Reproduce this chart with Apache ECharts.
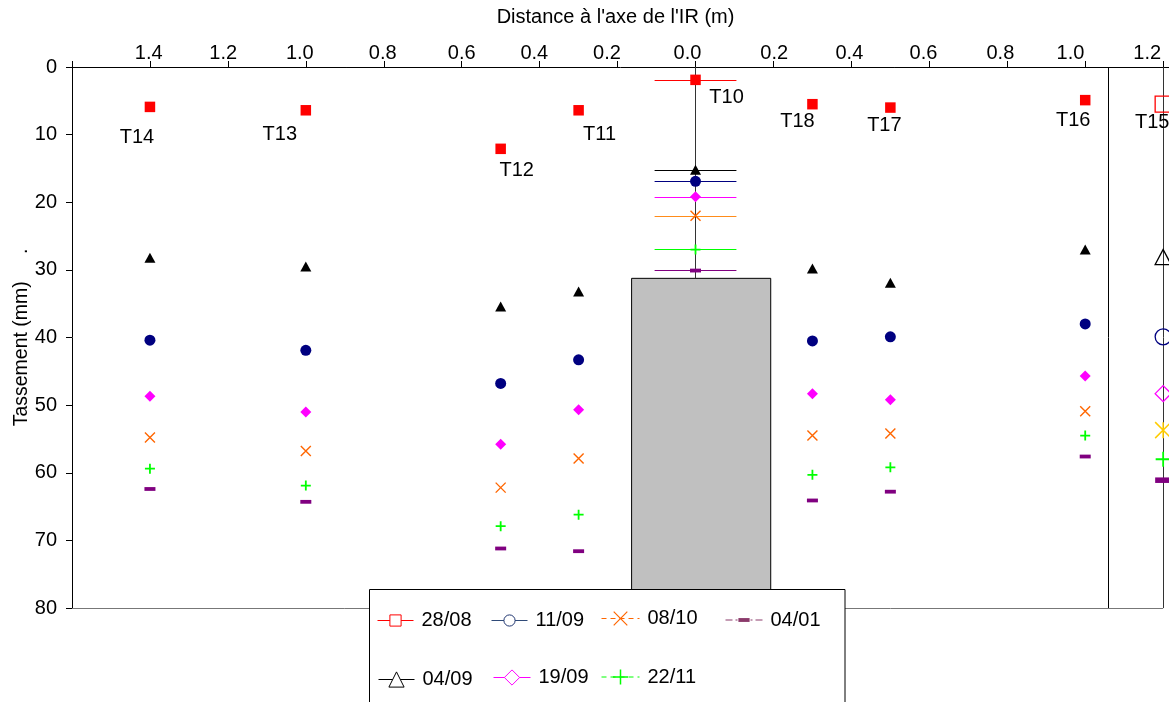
<!DOCTYPE html>
<html>
<head>
<meta charset="utf-8">
<script src="https://cdn.jsdelivr.net/npm/echarts@6.0.0/dist/echarts.min.js"></script>
<style>
html, body { margin:0; padding:0; background:#fff; }
#chart { width:1169px; height:702px; }
</style>
</head>
<body>
<div id="chart"></div>
<script>
// ---------------- data ----------------
const pointNames = ['T14','T13','T12','T11','T10','T18','T17','T16','T15'];
const distances  = [-1.4, -1.0, -0.5, -0.3, 0.0, 0.3, 0.5, 1.0, 1.2];
const dates = ['28/08','04/09','11/09','19/09','08/10','22/11','04/01'];
const tass_2808 = [5.9, 6.4, 12.1, 6.4, 1.9, 5.5, 6.0, 4.9, 5.5];
const tass_0409 = [28.2, 29.5, 35.4, 33.2, 15.2, 29.8, 31.9, 27.0, 28.1];
const tass_1109 = [40.4, 41.9, 46.8, 43.3, 16.9, 40.5, 39.9, 38.0, 39.9];
const tass_1909 = [48.7, 51.0, 55.8, 50.7, 19.2, 48.3, 49.2, 45.7, 48.3];
const tass_0810 = [54.8, 56.8, 62.2, 57.9, 22.0, 54.5, 54.2, 50.9, 53.7];
const tass_2211 = [59.4, 61.9, 67.9, 66.2, 27.0, 60.3, 59.2, 54.5, 58.0];
const tass_0401 = [62.4, 64.3, 71.2, 71.6, 30.1, 64.1, 62.8, 57.6, 61.1];
const xTickValues = [-1.4,-1.2,-1.0,-0.8,-0.6,-0.4,-0.2,0.0,0.2,0.4,0.6,0.8,1.0,1.2];
const xTickLabels = ['1.4','1.2','1.0','0.8','0.6','0.4','0.2','0.0','0.2','0.4','0.6','0.8','1.0','1.2'];
const xRange = [-1.6, 1.215];
const yRange = [0, 80];
const t10HalfWidth = 0.105;          // horizontal bars drawn at T10
const footingX = [-0.164, 0.193];    // grey block
const footingTop = 31.25;
const separatorX = 1.06;
const frameRightX = 1.2;

// ---------------- styles ----------------
const FONT = '"Liberation Sans", Arial, Helvetica, sans-serif';
const P_X = 'path://M0,0L10,10M10,0L0,10';
const P_PLUS = 'path://M5,0L5,10M0,5L10,5';
const P_STAR = 'path://M0,0L10,10M10,0L0,10M5,0L5,10';
const P_DASH = 'path://M0,0L0,0M0,3.6L11,3.6L11,7.4L0,7.4ZM11,11L11,11';
const NONE = 'rgba(0,0,0,0)';
// label nudges (px) for the top-axis tick labels, and for the point names
const xLabelNudge = [-1.2,-4.7,-6,-1,0,-5.3,-10.6,-8,0.7,-2,-5.9,-6.9,-14.7,-16];
const nameOffsets = [[-13,31],[-26,24],[16,22],[21,24],[31,18],[-15,17],[-6,18],[-12,20],[-11,18]];

const look = {
  '28/08': {values:tass_2808, symbol:'rect', size:10.5, fill:'#FF0000', stroke:NONE, bw:0, bar:'#FF0000',
            t15:{symbol:'rect', size:16, fill:NONE, stroke:'#FF0000', bw:1.3},
            leg:{left:377, top:610.5, w:36, h:14, line:'#FF0000', type:'solid', fill:'#fff', stroke:'#FF0000', bw:1}},
  '04/09': {values:tass_0409, symbol:'triangle', size:[11,10], fill:'#000000', stroke:NONE, bw:0, bar:'#000000',
            t15:{symbol:'triangle', size:[16,15], fill:NONE, stroke:'#000000', bw:1.3},
            leg:{left:378, top:669.5, w:36, h:19, line:'#000000', type:'solid', fill:'#fff', stroke:'#000000', bw:1}},
  '11/09': {values:tass_1109, symbol:'circle', size:11, fill:'#000080', stroke:NONE, bw:0, bar:'#000080',
            t15:{symbol:'circle', size:16, fill:NONE, stroke:'#000080', bw:1.3},
            leg:{left:491, top:610.5, w:36, h:14, line:'#2F4A78', type:'solid', fill:'#fff', stroke:'#1F3570', bw:1}},
  '19/09': {values:tass_1909, symbol:'diamond', size:[11,11], fill:'#FF00FF', stroke:NONE, bw:0, bar:'#FF00FF',
            t15:{symbol:'diamond', size:16, fill:NONE, stroke:'#FF00FF', bw:1.3},
            leg:{left:493, top:667.5, w:37, h:19, line:'#FF00FF', type:'solid', fill:'#fff', stroke:'#FF00FF', bw:1}},
  '08/10': {values:tass_0810, symbol:P_X, size:10, fill:NONE, stroke:'#FF6600', bw:1.4, bar:'#FF8C1A',
            t15:{symbol:P_STAR, size:16, fill:NONE, stroke:'#FFCC00', bw:1.5},
            leg:{left:601, top:608.5, w:38, h:17, line:'#FF6600', type:[5,4], fill:NONE, stroke:'#FF6600', bw:1.2}},
  '22/11': {values:tass_2211, symbol:P_PLUS, size:10, fill:NONE, stroke:'#00FF00', bw:1.8, bar:'#00FF00',
            t15:{symbol:P_PLUS, size:15, fill:NONE, stroke:'#00FF00', bw:1.8},
            leg:{left:601, top:667, w:38, h:19, line:'#00FF00', type:[5,4], fill:NONE, stroke:'#00FF00', bw:1.5}},
  '04/01': {values:tass_0401, symbol:P_DASH, size:11, fill:'#800080', stroke:NONE, bw:0, bar:'#800080',
            t15:{symbol:P_DASH, size:16, fill:'#800080', stroke:NONE, bw:0},
            leg:{left:725, top:610, w:37, h:14, line:'#8B3A6B', type:[7,3,2,3], fill:'#8B3A6B', stroke:NONE, bw:0}}
};

const t10Index = pointNames.indexOf('T10');
const t15Index = pointNames.indexOf('T15');

const series = dates.map((name, si) => {
  const st = look[name];
  const data = st.values.map((v, i) => {
    const item = { value: [distances[i], v] };
    if (i === t15Index) {
      item.symbol = st.t15.symbol;
      item.symbolSize = st.t15.size;
      item.itemStyle = { color: st.t15.fill, borderColor: st.t15.stroke, borderWidth: st.t15.bw };
    }
    if (si === 0) {
      item.label = { show: true, formatter: pointNames[i], position: 'inside', offset: nameOffsets[i],
                     fontSize: 20, color: '#000', fontFamily: FONT, textBorderWidth: 0 };
    }
    return item;
  });
  return {
    name, type: 'line', data,
    symbol: st.symbol, symbolSize: st.size, showSymbol: true,
    lineStyle: { opacity: 0, width: 0 },
    itemStyle: { color: st.fill, borderColor: st.stroke, borderWidth: st.bw, opacity: 1 },
    emphasis: { disabled: true }, silent: true, z: 2,
    markLine: {
      silent: true, z: 1, symbol: ['none','none'], label: { show: false },
      lineStyle: { color: st.bar, width: 1, type: 'solid' },
      emphasis: { disabled: true },
      data: [[ { coord: [distances[t10Index] - t10HalfWidth, st.values[t10Index]] },
               { coord: [distances[t10Index] + t10HalfWidth, st.values[t10Index]] } ]]
    }
  };
});

// structure: grey block, vertical guides, bottom line
series.push({
  name: 'structure', type: 'line', data: [], symbol: 'none', silent: true,
  markArea: {
    silent: true, z: 1, label: { show: false },
    itemStyle: { color: '#C0C0C0', borderColor: '#000', borderWidth: 1, opacity: 1 },
    data: [[ { coord: [footingX[0], footingTop] }, { coord: [footingX[1], yRange[1]] } ]]
  },
  markLine: {
    silent: true, z: 1, symbol: ['none','none'], label: { show: false },
    lineStyle: { color: '#000', width: 1, type: 'solid' },
    data: [
      [ { coord: [0, yRange[0]], lineStyle: { color: '#333' } }, { coord: [0, footingTop] } ],
      [ { coord: [separatorX, yRange[0]], lineStyle: { color: '#000' } }, { coord: [separatorX, yRange[1]] } ],
      [ { coord: [frameRightX, yRange[0]], lineStyle: { color: '#333' } }, { coord: [frameRightX, yRange[1]] } ],
      [ { coord: [xRange[0], yRange[1]], lineStyle: { color: '#777' } }, { coord: [frameRightX, yRange[1]] } ]
    ]
  }
});

const rich = {};
xTickValues.forEach((t, i) => {
  const d = xLabelNudge[i];
  rich['n' + i] = { fontSize: 20, color: '#000', fontFamily: FONT,
                    padding: d < 0 ? [0, -2 * d, 0, 0] : [0, 0, 0, 2 * d] };
});

const legends = dates.map(name => {
  const L = look[name].leg;
  return {
    show: true, type: 'plain', orient: 'horizontal', left: L.left, top: L.top,
    padding: 0, itemGap: 0, itemWidth: L.w, itemHeight: L.h, selectedMode: false, z: 20,
    textStyle: { fontSize: 20, color: '#000', fontFamily: FONT, lineHeight: 20, padding: [0, 0, 0, 3] },
    data: [{ name,
             itemStyle: { color: L.fill, borderColor: L.stroke, borderWidth: L.bw, opacity: 1 },
             lineStyle: { color: L.line, width: 1, type: L.type, opacity: 1 } }]
  };
});

const option = {
  animation: false,
  backgroundColor: '#fff',
  textStyle: { fontFamily: FONT },
  grid: { left: 72, top: 67, right: 0, bottom: 94, containLabel: false, outerBoundsMode: 'none' },
  xAxis: {
    type: 'value', position: 'top', min: xRange[0], max: xRange[1], interval: 0.2,
    axisLine: { show: true, onZero: false, lineStyle: { color: '#000', width: 1 } },
    axisTick: { show: true, inside: false, length: 6, lineStyle: { color: '#000', width: 1 } },
    axisLabel: {
      show: true, margin: 4, fontSize: 20, color: '#000', fontFamily: FONT, rich,
      formatter: v => {
        const i = xTickValues.findIndex(t => Math.abs(t - v) < 1e-6);
        return i < 0 ? '' : '{n' + i + '|' + xTickLabels[i] + '}';
      }
    },
    splitLine: { show: false },
    name: "Distance à l'axe de l'IR (m)", nameLocation: 'middle', nameGap: 40,
    nameTextStyle: { fontSize: 20, color: '#000', fontFamily: FONT, padding: [0, 10, 0, 0] }
  },
  yAxis: {
    type: 'value', inverse: true, min: yRange[0], max: yRange[1], interval: 10,
    axisLine: { show: true, onZero: false, lineStyle: { color: '#000', width: 1 } },
    axisTick: { show: true, inside: false, length: 6, lineStyle: { color: '#000', width: 1 } },
    axisLabel: { show: true, margin: 15, fontSize: 20, color: '#000', fontFamily: FONT },
    splitLine: { show: false },
    name: 'Tassement (mm)     .', nameLocation: 'middle', nameGap: 40, nameRotate: 90,
    nameMoveOverlap: false,
    nameTextStyle: { fontSize: 19.5, color: '#000', fontFamily: FONT }
  },
  legend: legends,
  graphic: {
    z: 10,
    elements: [{
      type: 'rect', z: 10, silent: true,
      shape: { x: 369.5, y: 589.5, width: 475.5, height: 140 },
      style: { fill: '#fff', stroke: '#000', lineWidth: 1 }
    }]
  },
  series
};

const chart = echarts.init(document.getElementById('chart'), null, { renderer: 'canvas' });
chart.setOption(option);
</script>
</body>
</html>
